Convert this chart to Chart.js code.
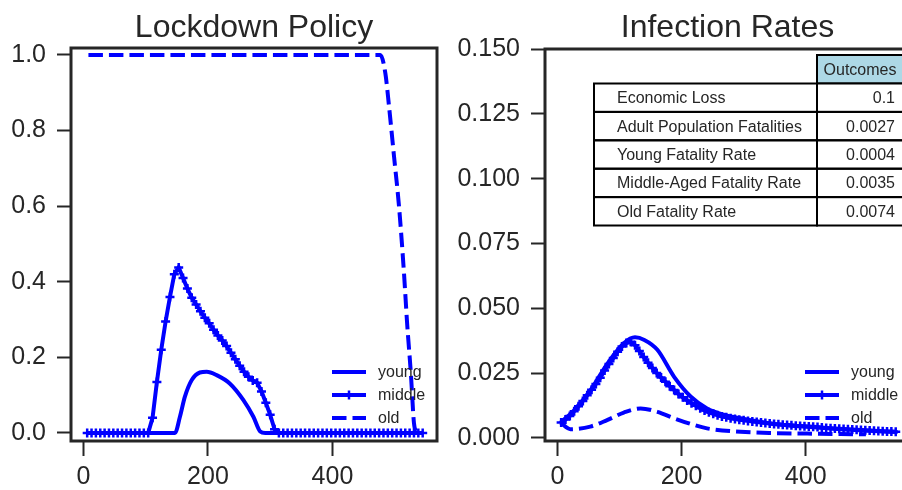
<!DOCTYPE html>
<html lang="en">
<head>
    <meta charset="UTF-8">
    <title>Lockdown Policy / Infection Rates</title>
    <script src="https://cdn.jsdelivr.net/npm/chart.js"></script>
    <style>
        html, body { margin: 0; padding: 0; background: #fff; overflow: hidden; }
        #wrap { position: relative; width: 902px; height: 490px; overflow: hidden; }
        #leftChart { position: absolute; left: 0; top: 0; }
        #rightChart { position: absolute; left: 450px; top: 0; }
    </style>
</head>
<body>
<div id="wrap">
    <canvas id="leftChart" width="450" height="490"></canvas>
    <canvas id="rightChart" width="480" height="490"></canvas>
</div>

<script>
    // ---- data ----
    const titles = ['Lockdown Policy', 'Infection Rates'];
    const seriesNames = ['young', 'middle', 'old'];
    const xTicks = [0, 200, 400];
    const leftYTicks = [0, 0.2, 0.4, 0.6, 0.8, 1.0];
    const rightYTicks = [0, 0.025, 0.05, 0.075, 0.1, 0.125, 0.15];

    // sample grid of the marked (middle) series
    const middleX = [6, 13, 20, 27, 34, 41, 48, 55, 62, 69, 76, 83, 90, 97, 104, 111, 118, 125, 132, 139,
        146, 153, 160, 167, 174, 181, 188, 195, 202, 209, 216, 223, 230, 237, 244, 251, 258, 265, 272, 279,
        286, 293, 300, 307, 314, 321, 328, 335, 342, 349, 356, 363, 370, 377, 384, 391, 398, 405, 412, 419,
        426, 433, 440, 447, 454, 461, 468, 475, 482, 489, 496, 503, 510, 517, 524, 531, 538, 545];

    // lockdown policy
    const lockYoungX = [6, 147, 155, 163, 174, 187, 198, 214, 235, 257, 273, 284, 292, 545];
    const lockYoungY = [0, 0, 0.043, 0.096, 0.14, 0.16, 0.162, 0.153, 0.131, 0.087, 0.043, 0.004, 0, 0];
    const lockMiddleY = [0, 0, 0, 0, 0, 0, 0, 0, 0, 0, 0, 0, 0, 0, 0,
        0.04, 0.135, 0.22, 0.295, 0.36, 0.42, 0.438, 0.41, 0.382, 0.358, 0.34, 0.322, 0.305, 0.29, 0.273,
        0.258, 0.245, 0.23, 0.212, 0.195, 0.178, 0.162, 0.149, 0.139, 0.133, 0.11, 0.08, 0.048, 0.01,
        0, 0, 0, 0, 0, 0, 0, 0, 0, 0, 0, 0, 0, 0, 0, 0, 0, 0, 0, 0, 0, 0, 0, 0, 0, 0, 0, 0, 0, 0, 0, 0, 0, 0];
    const lockOldX = [8, 477, 485, 491, 499, 507, 515, 520, 526, 531, 535];
    const lockOldY = [1, 1, 0.952, 0.863, 0.731, 0.599, 0.422, 0.29, 0.158, 0.026, 0];

    // infection rates
    const infYoungX = [5, 26, 53, 80, 107, 125, 140, 161, 188, 215, 241, 268, 295, 349, 403, 456, 510, 548];
    const infYoungY = [0.0059, 0.0105, 0.0183, 0.0285, 0.0365, 0.0388, 0.0378, 0.034, 0.0236, 0.0159,
        0.0114, 0.009, 0.0076, 0.0054, 0.0043, 0.0034, 0.0027, 0.0023];
    const infMiddleY = [0.006, 0.0071, 0.0085, 0.0103, 0.0122, 0.0143, 0.0165, 0.0186, 0.0208, 0.0232,
        0.026, 0.0285, 0.0308, 0.0333, 0.0353, 0.0366, 0.0371, 0.0358, 0.0335, 0.0312,
        0.029, 0.027, 0.0251, 0.0233, 0.0217, 0.02, 0.0185, 0.017, 0.0157, 0.0145,
        0.0134, 0.0124, 0.0115, 0.0106, 0.0099, 0.0093, 0.0088, 0.0083, 0.008, 0.0076,
        0.0073, 0.007, 0.0068, 0.0066, 0.0064, 0.0062, 0.006, 0.0058, 0.0056, 0.0054,
        0.0053, 0.0051, 0.005, 0.0049, 0.0047, 0.0046, 0.0045, 0.0044, 0.0043, 0.0042,
        0.004, 0.0039, 0.0038, 0.0037, 0.0036, 0.0035, 0.0034, 0.0033, 0.0032, 0.0031,
        0.003, 0.0029, 0.0028, 0.0027, 0.0026, 0.0025, 0.0025, 0.0024];
    const infOldX = [5, 21, 53, 80, 107, 134, 161, 188, 215, 241, 295, 349, 403, 456, 497];
    const infOldY = [0.0059, 0.0034, 0.0044, 0.0069, 0.0098, 0.0114, 0.0101, 0.0076, 0.0054, 0.0037,
        0.0024, 0.0019, 0.0017, 0.0015, 0.0014];

    // outcomes table
    const tableHeader = 'Outcomes';
    const tableLabels = ['Economic Loss', 'Adult Population Fatalities', 'Young Fatality Rate',
        'Middle-Aged Fatality Rate', 'Old Fatality Rate'];
    const tableValues = ['0.1', '0.0027', '0.0004', '0.0035', '0.0074'];

    // ---- drawing ----
    const FONT = "'Liberation Sans', Arial, sans-serif";
    const INK = '#262626';
    const BLUE = '#0000ff';
    const LW = 4;

    function pts(xs, ys) {
        return xs.map((x, i) => ({ x: x, y: ys[i] }));
    }

    function makeSets(youngX, youngY, midY, oldX, oldY) {
        return [
            { label: seriesNames[0], data: pts(youngX, youngY), borderColor: BLUE, borderWidth: LW,
              pointRadius: 0, cubicInterpolationMode: 'monotone' },
            { label: seriesNames[1], data: pts(middleX, midY), borderColor: BLUE, borderWidth: LW,
              pointStyle: 'cross', pointRadius: 4.5, pointBorderWidth: 2.5, pointBorderColor: BLUE,
              pointBackgroundColor: BLUE, tension: 0 },
            { label: seriesNames[2], data: pts(oldX, oldY), borderColor: BLUE, borderWidth: LW,
              borderDash: [14.5, 6], pointRadius: 0, cubicInterpolationMode: 'monotone' }
        ];
    }

    // frame, title and legend drawn over the plot
    const decorPlugin = {
        id: 'decor',
        afterDraw(chart, args, opts) {
            const ctx = chart.ctx;
            const a = chart.chartArea;
            ctx.save();
            ctx.strokeStyle = INK;
            ctx.lineWidth = 3;
            ctx.strokeRect(a.left, a.top, a.right - a.left, a.bottom - a.top);

            ctx.fillStyle = INK;
            ctx.font = '32px ' + FONT;
            ctx.textAlign = 'center';
            ctx.textBaseline = 'alphabetic';
            ctx.fillText(opts.title, (a.left + a.right) / 2, 37);

            // legend in the lower right corner
            ctx.font = '16px ' + FONT;
            ctx.textAlign = 'left';
            ctx.textBaseline = 'middle';
            chart.data.datasets.forEach((ds, i) => {
                const y = a.bottom - 69 + i * 23;
                const x0 = a.right - 105, x1 = a.right - 71;
                ctx.strokeStyle = BLUE;
                ctx.lineWidth = LW;
                ctx.setLineDash(ds.borderDash || []);
                ctx.beginPath();
                ctx.moveTo(x0, y);
                ctx.lineTo(x1, y);
                ctx.stroke();
                ctx.setLineDash([]);
                if (ds.pointStyle === 'cross') {
                    const cx = (x0 + x1) / 2;
                    ctx.lineWidth = 2.5;
                    ctx.beginPath();
                    ctx.moveTo(cx, y - 4.5);
                    ctx.lineTo(cx, y + 4.5);
                    ctx.stroke();
                }
                ctx.fillStyle = INK;
                ctx.fillText(ds.label, a.right - 59, y + 1);
            });

            if (opts.table) {
                const L = 144, M = 367, R = 453, top = 55, head = 83.5, rh = 28.4;
                ctx.lineWidth = 2;
                ctx.strokeStyle = '#000';
                ctx.fillStyle = '#add8e6';
                ctx.fillRect(M, top, R - M, head - top);
                ctx.strokeRect(M, top, R - M, head - top);
                ctx.fillStyle = '#fff';
                ctx.fillRect(L, head, R - L, rh * tableLabels.length);
                ctx.font = '16px ' + FONT;
                ctx.fillStyle = INK;
                ctx.textAlign = 'center';
                ctx.fillText(tableHeader, (M + R) / 2, (top + head) / 2 + 1);
                tableLabels.forEach((lab, i) => {
                    const y0 = head + i * rh;
                    ctx.strokeRect(L, y0, M - L, rh);
                    ctx.strokeRect(M, y0, R - M, rh);
                    ctx.fillStyle = INK;
                    ctx.textAlign = 'left';
                    ctx.fillText(lab, L + 23, y0 + rh / 2 + 1);
                    ctx.textAlign = 'right';
                    ctx.fillText(tableValues[i], R - 8, y0 + rh / 2 + 1);
                });
            }
            ctx.restore();
        }
    };

    function axisOpts(min, max, ticks, digits, fitW, fitH, isX) {
        return {
            type: 'linear',
            min: min,
            max: max,
            afterBuildTicks: (s) => { s.ticks = ticks.map(v => ({ value: v })); },
            afterFit: (s) => { if (isX) { s.height = fitH; } else { s.width = fitW; } },
            border: { display: false },
            grid: { drawOnChartArea: false, drawTicks: true, tickLength: isX ? 15 : 14,
                    tickWidth: 2, tickColor: INK, color: INK },
            ticks: { color: INK, padding: isX ? 6 : 11, font: { family: FONT, size: 25 },
                     maxRotation: 0, autoSkip: false,
                     callback: (v) => Number(v).toFixed(digits) }
        };
    }

    function makeChart(id, sets, yMin, yMax, yTicks, yDigits, yWidth, pad, title, table) {
        return new Chart(document.getElementById(id), {
            type: 'line',
            data: { datasets: sets },
            options: {
                responsive: false,
                animation: false,
                layout: { padding: pad },
                plugins: { legend: { display: false }, tooltip: { enabled: false },
                           decor: { title: title, table: table } },
                scales: {
                    x: axisOpts(-20, 568, xTicks, 0, 0, 49, true),
                    y: axisOpts(yMin, yMax, yTicks, yDigits, yWidth, 0, false)
                }
            },
            plugins: [decorPlugin]
        });
    }

    makeChart('leftChart',
        makeSets(lockYoungX, lockYoungY, lockMiddleY, lockOldX, lockOldY),
        -0.0212, 1.0185, leftYTicks, 1, 71,
        { top: 48, right: 13, left: 0, bottom: 0 }, titles[0], false);

    makeChart('rightChart',
        makeSets(infYoungX, infYoungY, infMiddleY, infOldX, infOldY),
        -0.00116, 0.15, rightYTicks, 3, 95,
        { top: 49, right: 20, left: 0, bottom: 0 }, titles[1], true);
</script>
</body>
</html>
